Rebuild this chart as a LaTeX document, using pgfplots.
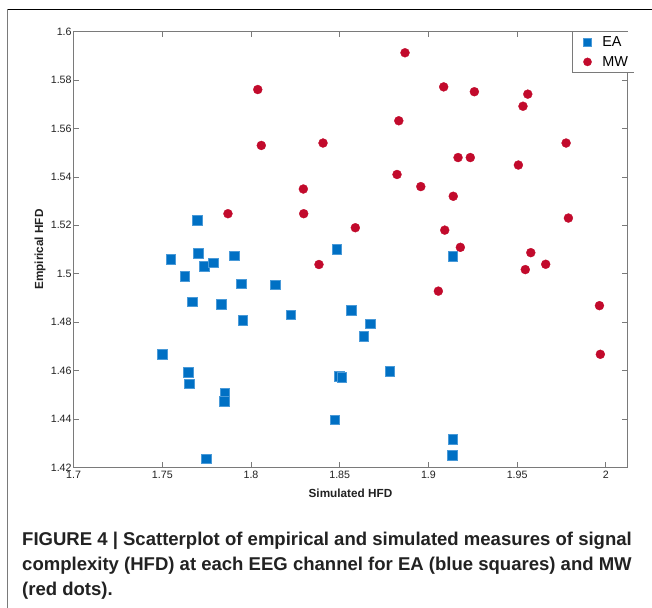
\documentclass[border=0pt]{standalone}
\usepackage{fontspec}
\setmainfont{Liberation Sans}
\usepackage{pgfplots}
\pgfplotsset{compat=1.18}
\definecolor{eablue}{HTML}{0070C4}
\definecolor{eaedge}{HTML}{4A9AD8}
\definecolor{mwred}{HTML}{C20A2C}
\definecolor{axgray}{HTML}{7A7A7A}
\definecolor{capgray}{HTML}{222222}

\begin{document}
\begin{tikzpicture}
\useasboundingbox (0,0) rectangle (652bp,-608bp);
\fill[white] (0,0) rectangle (652bp,-608bp);
\draw[black,line width=0.9bp] (7bp,-9bp) -- (652bp,-9bp);
\draw[axgray,line width=1bp] (7bp,-9bp) -- (7bp,-608bp);

\begin{axis}[
  at={(73.6bp,-467.3bp)},anchor=south west,
  scale only axis,width=553.7bp,height=435.6bp,
  xmin=1.7,xmax=2.0121,ymin=1.42,ymax=1.6,
  xtick={1.7,1.75,1.8,1.85,1.9,1.95,2},
  ytick={1.42,1.44,1.46,1.48,1.5,1.52,1.54,1.56,1.58,1.6},
  tick align=inside,major tick length=5bp,
  axis line style={axgray,line width=0.9bp},
  tick style={axgray,line width=0.8bp},
  /pgf/number format/assume math mode=true,
  tick label style={font=\fontsize{10.7}{12}\selectfont,text=capgray},
  yticklabel style={xshift=1.5bp},
  xlabel={Simulated HFD},ylabel={Empirical HFD},
  label style={font=\fontsize{11.8}{13}\selectfont\bfseries,text=capgray},
  xlabel style={at={(axis description cs:0.5,-0.059)},anchor=center},
  ylabel style={at={(axis description cs:-0.0607,0.5)},anchor=center},
  legend style={at={(axis description cs:0.9014,1)},anchor=north west,
    fill=white,draw=none,inner sep=0pt,column sep=10.7bp,row sep=0pt,
    nodes={inner sep=0pt,minimum height=20bp,anchor=west},
    font=\fontsize{14.5}{16}\selectfont},
  legend cell align=left,
  legend image code/.code={\path[draw=none,fill=none] (-14.6bp,0) -- (4bp,0);
    \draw[#1,mark size=4.1bp] plot coordinates {(0bp,0bp)};},
]
\addplot[only marks,mark=square*,mark size=4.8bp,
  mark options={fill=eablue,draw=eaedge,line width=0.5bp}]
  coordinates {
  (1.7696,1.5222) (1.7547,1.5059) (1.7703,1.5085) (1.7735,1.5030)
  (1.7786,1.5045) (1.7904,1.5075) (1.8483,1.5101) (1.7626,1.4990)
  (1.7669,1.4884) (1.7833,1.4874) (1.7945,1.4959) (1.7953,1.4807)
  (1.8135,1.4954) (1.8224,1.4830) (1.8564,1.4848) (1.7498,1.4668)
  (1.7647,1.4594) (1.7651,1.4545) (1.7853,1.4505) (1.7850,1.4472)
  (1.7746,1.4236) (1.8498,1.4577) (1.8511,1.4571) (1.8472,1.4396)
  (1.9137,1.5071) (1.8673,1.4794) (1.8635,1.4741) (1.8782,1.4598)
  (1.9137,1.4316) (1.9133,1.4250)
  };
\addlegendentry{\makebox[32bp][l]{EA}}
\addplot[only marks,mark=*,mark size=4.5bp,
  mark options={fill=mwred,draw=mwred,line width=0.3bp}]
  coordinates {
  (1.8038,1.5761) (1.8058,1.5530) (1.8406,1.5540) (1.8295,1.5350)
  (1.8297,1.5248) (1.7870,1.5248) (1.8588,1.5190) (1.8383,1.5038)
  (1.9056,1.4928) (1.9546,1.5017) (1.9661,1.5039) (1.9577,1.5087)
  (1.9964,1.4868) (1.9969,1.4667) (1.8868,1.5913) (1.9086,1.5772)
  (1.9259,1.5752) (1.9560,1.5742) (1.9533,1.5692) (1.8833,1.5632)
  (1.9776,1.5540) (1.9167,1.5480) (1.9236,1.5480) (1.9507,1.5449)
  (1.8823,1.5410) (1.8957,1.5360) (1.9140,1.5320) (1.9092,1.5180)
  (1.9789,1.5230) (1.9180,1.5109)
  };
\addlegendentry{\makebox[32bp][l]{MW}}
\end{axis}

\draw[axgray,line width=0.9bp] (572.7bp,-31.7bp) -- (572.7bp,-72bp) -- (634bp,-72bp);

\begin{scope}[every node/.style={anchor=base west,inner sep=0pt,text=capgray,
    font=\fontsize{18.6}{20}\selectfont\bfseries}]
\node at (22bp,-545bp) {FIGURE 4 | Scatterplot of empirical and simulated measures of signal};
\node at (22bp,-570bp) {complexity (HFD) at each EEG channel for EA (blue squares) and MW};
\node at (22bp,-595bp) {(red dots).};
\end{scope}
\end{tikzpicture}
\end{document}
